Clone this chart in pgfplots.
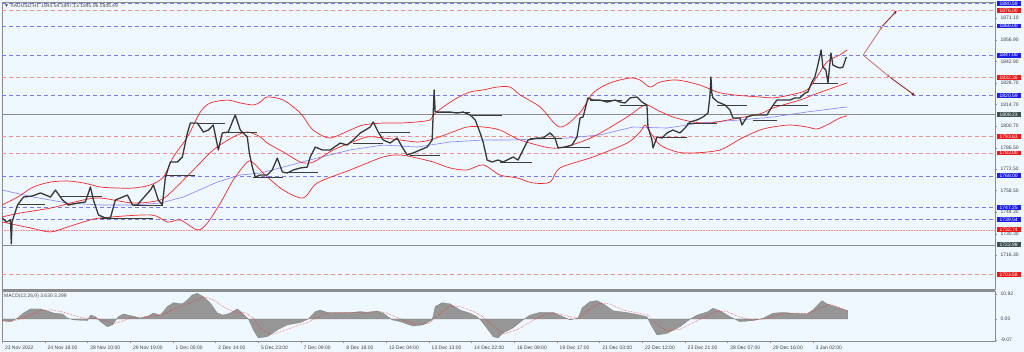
\documentclass[border=0pt]{standalone}
\usepackage{pgfplots}
\pgfplotsset{compat=1.18}
\usepackage{fontspec}
\setmainfont{Liberation Sans}
\usetikzlibrary{arrows.meta}
\definecolor{bg}{RGB}{240,248,255}
\definecolor{lvlblue}{RGB}{120,120,240}
\definecolor{lvlred}{RGB}{240,140,140}
\definecolor{lvlgray}{RGB}{140,140,140}
\definecolor{bbred}{RGB}{240,40,40}
\definecolor{mablue}{RGB}{130,130,255}
\definecolor{boxblue}{RGB}{30,30,235}
\definecolor{boxred}{RGB}{235,25,25}
\definecolor{boxgray}{RGB}{60,80,80}
\definecolor{candle}{RGB}{55,55,55}
\definecolor{pivot}{RGB}{60,60,60}
\definecolor{histgray}{RGB}{150,150,150}
\definecolor{arrowdark}{RGB}{140,20,20}
\definecolor{arrowlight}{RGB}{200,110,110}
\newcommand{\tinyf}{\fontsize{5}{6}\selectfont}
\tikzset{bx/.style={anchor=west, font=\tinyf, text=white, inner sep=0.7pt, xshift=1.5pt, minimum width=24pt}}
\pgfplotsset{pv/.style={pivot, line width=0.8pt},
  lb/.style={lvlblue, line width=0.6pt, dash pattern=on 4pt off 3pt},
  lr/.style={lvlred, line width=0.6pt, dash pattern=on 4pt off 3pt}}
\begin{document}
\begin{tikzpicture}
\path[use as bounding box, fill=bg] (0,0) rectangle (1024pt,352pt);
\begin{axis}[at={(2pt,63pt)}, anchor=south west, scale only axis,
  width=993pt, height=287pt,
  xmin=0, xmax=768, ymin=1694.1, ymax=1881.7,
  clip mode=individual,
  axis line style={lvlgray},
  xtick=\empty,
  ytick={1716.3,1730.3,1744.3,1758.5,1772.5,1786.5,1800.7,1814.7,1828.7,1842.9,1856.9,1871.1},
  yticklabels={1716.30,1730.30,1744.30,1758.50,1772.50,1786.50,1800.70,1814.70,1828.70,1842.90,1856.90,1871.10},
  ytick pos=right, yticklabel pos=right,
  tick style={lvlgray}, major tick length=2pt, tick align=outside,
  yticklabel style={font=\tinyf, text=black!75},
]
% horizontal levels
\addplot[lb] coordinates {(0,1880.59) (768,1880.59)};
\addplot[lb] coordinates {(0,1866.00) (768,1866.00)};
\addplot[lb] coordinates {(0,1847.00) (768,1847.00)};
\addplot[lb] coordinates {(0,1820.59) (768,1820.59)};
\addplot[lb] coordinates {(0,1768.00) (768,1768.00)};
\addplot[lb] coordinates {(0,1747.25) (768,1747.25)};
\addplot[lb] coordinates {(0,1739.54) (768,1739.54)};
\addplot[lr] coordinates {(0,1876.00) (768,1876.00)};
\addplot[lr] coordinates {(0,1832.36) (768,1832.36)};
\addplot[lr] coordinates {(0,1793.63) (768,1793.63)};
\addplot[lr] coordinates {(0,1783.00) (768,1783.00)};
\addplot[lr] coordinates {(0,1703.58) (768,1703.58)};
\addplot[lvlred, line width=0.6pt, densely dotted] coordinates {(0,1732.74) (768,1732.74)};
\addplot[lvlgray, line width=0.6pt] coordinates {(0,1808.23) (768,1808.23)};
\addplot[lvlgray, line width=0.6pt] coordinates {(0,1722.98) (768,1722.98)};
% moving average
\addplot[mablue, line width=0.6pt] coordinates {(0,1758.8) (24.3,1754.2) (50.6,1750.3) (76.1,1749.0) (101.6,1749.0) (122.5,1750.3) (140.3,1754.2) (166.5,1764.0) (184.3,1768.6) (199.8,1769.9) (217.5,1773.8) (243.8,1779.7) (269.3,1785.0) (294.8,1788.2) (321.1,1786.9) (346.6,1790.2) (372.1,1791.5) (393,1791.5) (437,1792.8) (462.5,1794.8) (488,1800.0) (514.3,1799.3) (539.8,1802.6) (570.7,1804.6) (596.2,1806.5) (622.5,1809.8) (653.5,1813.1)};
% Bollinger upper
\addplot[bbred, line width=0.7pt, smooth] coordinates {(0,1749.0) (12,1754.2) (24.3,1760.8) (37.5,1764.0) (50.6,1764.7) (63,1763.4) (76.1,1760.8) (89.3,1760.1) (101.6,1760.1) (114.8,1762.1) (124.8,1767.3) (132.5,1780.4) (143.4,1793.5) (153.4,1809.8) (161.1,1815.7) (174.3,1817.6) (184.3,1815.7) (194.4,1814.4) (199.8,1816.3) (205.1,1819.6) (217.5,1817.6) (230.7,1809.1) (238.4,1800.0) (243.8,1796.1) (253.9,1792.8) (269.3,1798.0) (279.4,1801.3) (294.8,1802.6) (308,1802.6) (321.1,1803.3) (331.2,1804.6) (333.5,1807.8) (341.2,1813.1) (352,1819.0) (362.1,1822.9) (372.1,1824.2) (382.9,1826.1) (392.9,1826.1) (400.7,1820.9) (416.1,1813.1) (431.5,1800.0) (446.7,1809.1) (457.1,1822.2) (470.3,1828.8) (485.7,1832.0) (493.4,1830.7) (501.2,1826.1) (509,1829.4) (522.1,1830.7) (539.8,1827.4) (552.9,1822.9) (565.3,1821.0) (586.2,1819.6) (596.2,1819.0) (609.4,1820.9) (622.5,1824.2) (630.2,1832.7) (638,1842.5) (648,1847.1) (653.5,1850.3)};
% Bollinger middle
\addplot[bbred, line width=0.7pt, smooth] coordinates {(0,1741.2) (14.3,1743.8) (37.5,1747.0) (63,1752.3) (76.1,1753.6) (101.6,1750.3) (122.5,1752.3) (132.5,1758.8) (148,1771.9) (163.4,1785.0) (178.9,1793.5) (189.7,1796.7) (199.8,1793.5) (205.1,1789.5) (217.5,1783.7) (230.7,1777.1) (238.4,1776.5) (243.8,1778.4) (256.2,1785.0) (269.3,1789.5) (282.5,1793.5) (294.8,1792.8) (308,1791.5) (321.1,1790.2) (331.2,1791.5) (346.6,1796.1) (359.7,1800.0) (372.1,1800.0) (385.2,1798.0) (400.7,1791.5) (423.9,1786.3) (437,1787.4) (457.1,1793.5) (483.4,1806.5) (497.3,1814.4) (506.6,1811.1) (518.9,1806.5) (534.4,1803.3) (547.5,1802.6) (565.3,1805.2) (586.2,1808.6) (596.2,1812.4) (617.1,1817.6) (627.1,1820.9) (638,1824.2) (653.5,1828.8)};
% Bollinger lower
\addplot[bbred, line width=0.7pt, smooth] coordinates {(0,1737.9) (22,1734.0) (37.5,1731.4) (50.6,1734.6) (63,1737.9) (76.1,1740.5) (114.8,1742.5) (127.9,1737.9) (137.9,1739.2) (151.1,1732.7) (158.8,1737.2) (168.9,1750.3) (178.9,1765.4) (189.7,1777.1) (194.4,1776.5) (203.6,1768.6) (217.5,1758.8) (233,1753.6) (243.8,1763.4) (269.3,1771.9) (294.8,1780.4) (308,1781.7) (321.1,1779.7) (333.5,1777.1) (346.6,1773.2) (359.7,1771.9) (372.1,1775.2) (385.2,1768.6) (398.4,1766.7) (410.8,1763.4) (423.9,1764.0) (431.5,1773.2) (457.1,1780.4) (483.4,1789.5) (493.4,1796.7) (497.3,1801.3) (501.2,1796.7) (509,1788.2) (522.1,1783.7) (534.4,1783.0) (555.3,1785.0) (572.3,1792.8) (586.2,1798.0) (596.2,1800.0) (609.4,1801.3) (622.5,1800.0) (630.2,1798.7) (638,1801.3) (648,1805.9) (653.5,1807.2)};
% pivot segments
\addplot[pv] coordinates {(12,1749.7) (33.6,1749.7)};
\addplot[pv] coordinates {(45.2,1754.5) (77.7,1754.5)};
\addplot[pv] coordinates {(76.1,1740.5) (117.1,1740.5)};
\addplot[pv] coordinates {(101.6,1749.0) (124.8,1749.0)};
\addplot[pv] coordinates {(126.4,1768.6) (149.5,1768.6)};
\addplot[pv] coordinates {(151.1,1802.6) (172.7,1802.6)};
\addplot[pv] coordinates {(174.3,1796.7) (197.4,1796.7)};
\addplot[pv] coordinates {(194.4,1767.3) (217.5,1767.3)};
\addplot[pv] coordinates {(217.5,1770.6) (244.6,1770.6)};
\addplot[pv] coordinates {(271.6,1789.5) (294.8,1789.5)};
\addplot[pv] coordinates {(292.5,1796.7) (315.7,1796.7)};
\addplot[pv] coordinates {(315.7,1781.7) (338.9,1781.7)};
\addplot[pv] coordinates {(336.5,1809.8) (362.1,1809.8)};
\addplot[pv] coordinates {(363.6,1807.8) (386.8,1807.8)};
\addplot[pv] coordinates {(385.2,1777.1) (410,1777.1)};
\addplot[pv] coordinates {(408.4,1792.8) (433.2,1792.8)};
\addplot[pv] coordinates {(431.6,1786.9) (454.8,1786.9)};
\addplot[pv] coordinates {(454.8,1817.6) (479.5,1817.6)};
\addplot[pv] coordinates {(478,1814.4) (498.8,1814.4)};
\addplot[pv] coordinates {(506.6,1793.5) (529.7,1793.5)};
\addplot[pv] coordinates {(529.7,1802.6) (552.9,1802.6)};
\addplot[pv] coordinates {(552.9,1814.4) (576.1,1814.4)};
\addplot[pv] coordinates {(580.8,1804.6) (599.3,1804.6)};
\addplot[pv] coordinates {(596.2,1814.4) (623.3,1814.4)};
\addplot[pv] coordinates {(627.1,1828.8) (646.4,1828.8)};
% price
\addplot[candle, line width=1.3pt, line join=round] coordinates {(0,1740.5) (3.5,1737.9) (6.6,1739.2) (7.2,1723.5) (7.8,1738) (12,1749.0) (16.6,1754.2) (23.6,1754.9) (29.8,1756.9) (37.5,1754.2) (41.3,1758.8) (46.8,1752.3) (51.4,1749.0) (59.1,1750.3) (64.5,1751.0) (68.4,1760.8) (70.7,1752.3) (74.6,1742.5) (80,1740.5) (83.8,1740.5) (87.7,1752.3) (91.6,1753.6) (97,1755.5) (100.9,1749.0) (104.7,1749.0) (109.3,1753.6) (114.8,1758.8) (117.1,1762.1) (120.9,1752.3) (124,1749.0) (126.4,1767.3) (130.2,1777.1) (135.6,1777.1) (139.5,1780.4) (143.4,1796.1) (145.7,1802.6) (151.1,1802.6) (155.7,1796.7) (159.6,1798.0) (163.4,1801.3) (167.3,1785.0) (170.4,1796.1) (175,1796.7) (178.1,1803.3) (180.4,1807.8) (184.3,1798.0) (189.7,1793.5) (191.3,1783.0) (193.6,1773.8) (195.9,1767.3) (199.8,1768.6) (205.1,1768.6) (209,1771.9) (212.9,1779.7) (216.8,1770.6) (220.6,1769.9) (225.3,1771.9) (230.7,1773.2) (236.1,1773.8) (238.4,1780.4) (242.3,1786.9) (247.7,1785.0) (253.9,1785.0) (261.6,1789.5) (267,1788.2) (271.6,1791.5) (277.1,1796.1) (281,1798.0) (284.8,1800.0) (287.1,1803.3) (291,1796.7) (294.8,1791.5) (300.2,1789.5) (305.6,1792.8) (309.5,1786.9) (313.4,1781.7) (318,1783.0) (323.4,1785.0) (328.8,1786.9) (332.7,1791.5) (333.5,1809.1) (334.2,1824.2) (335,1810) (336.5,1809.8) (341.2,1809.8) (346.6,1809.8) (352,1809.1) (356.6,1809.8) (362.1,1807.8) (366,1804.6) (369.8,1796.1) (372.1,1790.2) (375.2,1778.4) (379,1777.1) (383.7,1778.4) (387.5,1777.1) (390.6,1778.4) (395.3,1780.4) (399.1,1778.4) (403,1785.0) (406.9,1791.5) (413.8,1792.8) (418.5,1792.8) (423.9,1796.1) (427.7,1792.8) (430.1,1786.3) (435.5,1786.9) (440.9,1788.2) (444.7,1793.5) (447.1,1805.9) (449.4,1806.5) (453.2,1819.0) (457.1,1817.6) (462.5,1817.6) (467.9,1816.3) (474.1,1817.6) (478,1816.3) (481.8,1815.7) (485.7,1819.0) (491.1,1819.6) (495,1816.3) (498.8,1814.4) (499.6,1800.0) (502.7,1791.5) (503.5,1786.3) (506.6,1793.5) (510.4,1792.8) (514.3,1796.1) (518.9,1798.0) (524.3,1796.1) (528.2,1799.3) (532.1,1803.3) (537.5,1804.6) (542.1,1806.5) (546,1809.1) (547.5,1820) (548.3,1832.7) (549,1822) (549.9,1819.0) (553.7,1816.3) (559.1,1814.4) (563,1811.1) (565.3,1805.9) (570.7,1805.9) (572.3,1801.3) (576.1,1806.5) (580.8,1807.8) (586.2,1807.8) (591.6,1807.8) (595.4,1813.1) (599.3,1817.6) (603.9,1817.6) (609.4,1817.6) (613.2,1819.0) (617.1,1819.0) (621,1822.2) (623.3,1822.9) (626.4,1829.4) (628.7,1832.7) (631,1840.5) (633.5,1850.3) (634.9,1839.2) (637.2,1837.2) (638.8,1828.8) (641.1,1848.4) (642.6,1840.5) (645.7,1839.2) (648,1838.6) (650.4,1839.2) (652.7,1845.1) (653.5,1845.5)};
% scenario arrows
\addplot[arrowlight, line width=0.8pt, -{Stealth[length=3.5pt,width=3pt]}] coordinates {(666,1847.0) (681,1866.0)};
\addplot[arrowdark, line width=0.8pt, -{Stealth[length=3.5pt,width=3pt]}] coordinates {(681,1866.0) (692,1876.0)};
\addplot[arrowlight, line width=0.8pt, -{Stealth[length=3.5pt,width=3pt]}] coordinates {(666,1847.0) (687,1832.36)};
\addplot[arrowdark, line width=0.8pt, -{Stealth[length=3.5pt,width=3pt]}] coordinates {(687,1832.36) (706,1820.59)};
% title
\node[anchor=north west, font=\tinyf, text=black!70, inner sep=0pt] at (rel axis cs:0.002,0.992) {▼ XAUUSD,H1\, 1845.54 1847.13 1845.06 1845.49};
% level boxes
\node[bx, fill=boxblue] at (axis cs:768,1880.59) {1880.59};
\node[bx, fill=boxred] at (axis cs:768,1876.00) {1876.00};
\node[bx, fill=boxblue] at (axis cs:768,1866.00) {1866.00};
\node[bx, fill=boxblue] at (axis cs:768,1847.00) {1847.00};
\node[bx, fill=boxred] at (axis cs:768,1832.36) {1832.36};
\node[bx, fill=boxblue] at (axis cs:768,1820.59) {1820.59};
\node[bx, fill=boxgray] at (axis cs:768,1808.23) {1808.23};
\node[bx, fill=boxred] at (axis cs:768,1793.63) {1793.63};
\node[bx, fill=boxred] at (axis cs:768,1783.00) {1783.00};
\node[bx, fill=boxblue] at (axis cs:768,1768.00) {1768.00};
\node[bx, fill=boxblue] at (axis cs:768,1747.25) {1747.25};
\node[bx, fill=boxblue] at (axis cs:768,1739.54) {1739.54};
\node[bx, fill=boxred] at (axis cs:768,1732.74) {1732.74};
\node[bx, fill=boxgray] at (axis cs:768,1722.98) {1722.98};
\node[bx, fill=boxred] at (axis cs:768,1703.58) {1703.58};
\end{axis}
\draw[lvlgray, line width=1.5pt] (2pt,62pt) -- (995pt,62pt);
\begin{axis}[at={(2pt,11pt)}, anchor=south west, scale only axis,
  width=993pt, height=50pt,
  xmin=0, xmax=768, ymin=-9.6, ymax=12.2,
  clip mode=individual,
  axis line style={lvlgray},
  xtick={0,33,66,99,132,165,198,231,264,297,330,363,396,429,462,495,528,561,594,627},
  xticklabels={23 Nov 2022,24 Nov 18:00,28 Nov 10:00,29 Nov 19:00,1 Dec 05:00,2 Dec 14:00,5 Dec 23:00,7 Dec 09:00,8 Dec 18:00,12 Dec 04:00,13 Dec 13:00,14 Dec 22:00,16 Dec 08:00,19 Dec 17:00,21 Dec 03:00,22 Dec 12:00,23 Dec 21:00,28 Dec 07:00,29 Dec 16:00,3 Jan 02:00},
  xtick pos=bottom,
  xticklabel style={anchor=north west, font=\tinyf, text=black!75, xshift=-0.5pt, yshift=0.5pt},
  ytick={-9.07,0,10.92}, yticklabels={-9.07,0.00,10.92},
  ytick pos=right, yticklabel pos=right,
  tick style={lvlgray}, major tick length=2pt, tick align=outside,
  yticklabel style={font=\tinyf, text=black!75},
]
\addplot[fill=histgray, draw=histgray!80!black, line width=0.2pt] coordinates {(0,-0.7) (6.6,-1.2) (12,0.4) (16.6,2.6) (22,4.4) (29.8,4.4) (35.2,3.5) (39.8,2.6) (46.8,2.2) (50.6,0.4) (55.3,-0.4) (66.1,-0.7) (68.4,1.7) (72.3,1.0) (76.1,-1.2) (81.5,-3.4) (85.4,-2.6) (90,1.0) (93.9,2.2) (100.9,1.3) (107,0.4) (113.2,1.3) (117.1,2.6) (122.5,1.7) (127.9,5.4) (132.5,7.1) (139.5,6.6) (143.4,8.3) (147.2,10.5) (151.1,11.2) (155.7,9.7) (161.1,7.0) (166.5,2.6) (171.2,1.7) (176.6,2.6) (182,4.4) (185.9,2.6) (190.5,0) (194.4,-4.8) (198.2,-8.3) (205.2,-7.7) (212.9,-4.8) (220.6,-2.6) (230.7,-1.6) (236.9,0) (242.3,3.2) (246.1,3.9) (252.3,2.8) (261.6,2.8) (269.3,2.8) (277.1,3.2) (282.5,2.9) (290.2,3.5) (294.8,2.5) (301.8,-0.4) (308,-1.2) (318,-3.1) (325.7,-2.6) (332.7,-0.4) (335,5.4) (340.4,7.1) (346.6,6.6) (354.3,3.9) (362.1,2.5) (367.5,1.0) (371.3,-1.2) (376,-4.8) (379.8,-7.7) (383.7,-8.3) (387.5,-6.1) (395.3,-3.9) (403,-0.4) (408.4,1.7) (416.1,2.9) (426.2,2.9) (433.9,1.0) (439.3,-0.4) (445.5,0.4) (448.6,4.8) (454.8,7.6) (460.2,8.0) (466.4,6.1) (472.6,3.6) (483.4,2.8) (491.1,2.0) (498.8,1.0) (502.7,-3.4) (506.6,-7.0) (514.3,-6.3) (524.3,-3.4) (532.1,-0.1) (537.5,1.7) (546,3.2) (549.9,4.7) (555.3,3.6) (563,1.0) (570.7,-1.2) (580.8,-0.7) (588.5,0.3) (596.2,2.5) (603.9,2.9) (611.7,2.5) (622.5,2.2) (627.1,3.9) (634.1,8.0) (638,6.6) (642.6,5.7) (648,4.7) (654.2,3.6)} \closedcycle;
\addplot[bbred, densely dotted, line width=0.5pt] coordinates {(0,-1.0) (10,-0.8) (16,0.3) (22,2.0) (30,3.6) (38,4.0) (46,3.2) (54,1.8) (62,0.5) (70,0.2) (78,-0.5) (86,-2.0) (92,-1.2) (100,0.6) (108,0.9) (116,1.3) (124,1.8) (132,4.0) (140,5.8) (148,7.6) (156,9.6) (164,8.2) (172,5.0) (180,3.0) (188,2.8) (194,0.5) (200,-4.0) (208,-6.8) (216,-5.5) (226,-3.4) (236,-1.6) (244,0.8) (252,2.6) (262,2.8) (280,3.0) (294,3.1) (302,1.6) (310,-0.5) (320,-2.2) (330,-2.0) (338,2.0) (346,5.5) (354,5.4) (364,3.4) (372,1.0) (380,-3.0) (388,-6.5) (398,-4.8) (408,-1.5) (418,1.5) (428,2.6) (438,1.2) (446,0.4) (454,4.0) (462,6.8) (470,6.6) (480,4.0) (492,2.6) (500,1.6) (506,-2.0) (514,-5.2) (524,-4.6) (534,-1.8) (544,1.0) (552,3.2) (560,3.4) (570,1.0) (580,-0.5) (590,0.0) (600,1.8) (612,2.6) (624,2.4) (632,4.5) (640,6.4) (648,5.0) (654,3.3)};
\node[anchor=north west, font=\tinyf, text=black!70, inner sep=0pt] at (rel axis cs:0.002,0.95) {MACD(12,26,9) 3.630 3.299};
\end{axis}
\end{tikzpicture}
\end{document}
